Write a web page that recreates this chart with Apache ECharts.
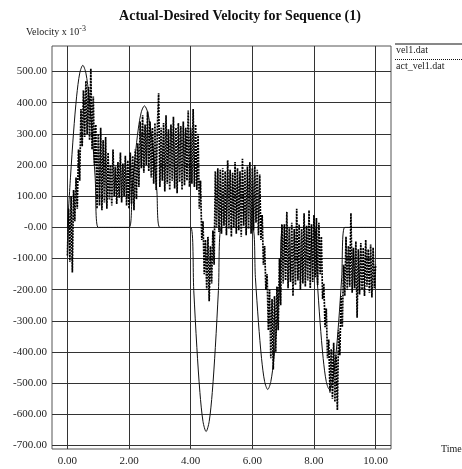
<!DOCTYPE html>
<html>
<head>
<meta charset="utf-8">
<script src="https://cdn.jsdelivr.net/npm/echarts@6/dist/echarts.min.js"></script>
<style>
  html, body { margin: 0; padding: 0; background: #fff; }
  #chart { width: 462px; height: 469px; }
</style>
</head>
<body>
<div id="chart"></div>
<script>
// Axis ticks and their printed labels
const xTicks = [0, 2, 4, 6, 8, 10];
const xTickLabels = ['0.00', '2.00', '4.00', '6.00', '8.00', '10.00'];
const yTicks = [-700, -600, -500, -400, -300, -200, -100, 0, 100, 200, 300, 400, 500];
const yTickLabels = ['-700.00', '-600.00', '-500.00', '-400.00', '-300.00', '-200.00', '-100.00',
                     '-0.00', '100.00', '200.00', '300.00', '400.00', '500.00'];

// vel1.dat : desired velocity profile (time, velocity x 1e-3)
const velTime = [
  0, 0.1, 0.2, 0.3, 0.4, 0.5, 0.6, 0.7, 0.8, 0.9, 1.0,
  2.0, 2.1, 2.2, 2.3, 2.4, 2.5, 2.6, 2.7, 2.8, 2.9, 3.0,
  4.0, 4.1, 4.2, 4.3, 4.4, 4.5, 4.6, 4.7, 4.8, 4.9, 5.0,
  6.0, 6.1, 6.2, 6.3, 6.4, 6.5, 6.6, 6.7, 6.8, 6.9, 7.0,
  8.0, 8.1, 8.2, 8.3, 8.4, 8.5, 8.6, 8.7, 8.8, 8.9, 9.0,
  10.0
];
const velValue = [
  0, 161, 306, 421, 495, 520, 495, 421, 306, 161, 0,
  0, 121, 229, 316, 371, 390, 371, 316, 229, 121, 0,
  0, -202, -385, -530, -623, -655, -623, -530, -385, -202, 0,
  0, -161, -306, -421, -495, -520, -495, -421, -306, -161, 0,
  0, -161, -306, -421, -495, -520, -495, -421, -306, -161, 0,
  0
];

// act_vel1.dat : measured velocity, sampled every actStep seconds from actStart
const actStart = 0;
const actStep = 0.04;
const actValue = [
  // 0.00 - 0.96
  -90, 60, -110, 100, -145, 120, 20, 160, 60, 250, 150, 380, 260, 440, 290, 470, 300, 450, 280, 510, 250, 420, 200, 330, 60,
  // 1.00 - 1.96
  300, 70, 320, 55, 280, 80, 290, 60, 240, 90, 200, 70, 250, 100, 195, 75, 210, 95, 240, 80, 205, 100, 230, 70, 215,
  // 2.00 - 2.96
  60, 240, 75, 230, 55, 250, 90, 270, 130, 340, 190, 360, 175, 330, 200, 372, 180, 340, 160, 320, 140, 335, 120, 325, 430,
  // 3.00 - 3.96
  130, 320, 150, 335, 115, 360, 140, 315, 120, 330, 150, 355, 125, 320, 110, 335, 145, 325, 120, 340, 135, 320, 150, 375, 130,
  // 4.00 - 4.96
  320, 140, 380, 130, 330, 120, 300, 60, 150, -40, 20, -150, -40, -200, -30, -237, -60, -180, -10, -120, 180, 0, 190, -15, 185,
  // 5.00 - 5.96
  -20, 190, 5, 180, -25, 215, -5, 185, -30, 175, 0, 210, -20, 190, -10, 180, -30, 220, 5, 185, -25, 195, -5, 210, -20,
  // 6.00 - 6.96
  190, -10, 200, 15, 185, -25, 170, -40, 40, -120, -60, -200, -150, -330, -200, -420, -230, -456, -220, -400, -190, -330, -100, -250, 10,
  // 7.00 - 7.96
  -180, 10, -170, 50, -195, 0, -175, 15, -220, -5, -185, 60, -170, 10, -200, -5, -180, 45, -190, 5, -170, 55, -195, 10, -175,
  // 8.00 - 8.96
  40, -160, 30, -185, 15, -150, -30, -230, -180, -320, -260, -420, -360, -530, -390, -550, -370, -560, -410, -586, -330, -410, -220, -320, -120,
  // 9.00 - 10.00
  -220, -30, -200, -60, -190, 46, -210, -65, -195, -45, -290, -70, -215, -50, -200, -65, -220, -40, -190, -70, -210, -55, -225, -65, -195, -120
];

const SERIF = '"Liberation Serif", "DejaVu Serif", serif';
const chart = echarts.init(document.getElementById('chart'), null, { renderer: 'canvas' });

chart.setOption({
  animation: false,
  backgroundColor: '#fff',
  title: {
    text: 'Actual-Desired Velocity for Sequence (1)',
    left: 235, top: 4, textAlign: 'center',
    textStyle: { fontFamily: SERIF, fontWeight: 'bold', fontSize: 14, color: '#111' }
  },
  grid: {
    left: 52, right: 71, top: 46, bottom: 20,
    show: true, borderColor: '#555', borderWidth: 1, backgroundColor: 'transparent'
  },
  xAxis: {
    type: 'value', min: -0.5, max: 10.5,
    axisLine: { show: false },
    axisTick: { show: false, customValues: xTicks },
    axisLabel: {
      customValues: xTicks,
      formatter: v => xTickLabels[xTicks.indexOf(v)],
      fontFamily: SERIF, fontSize: 11, color: '#222', margin: 7
    },
    splitLine: { show: true, lineStyle: { color: '#333', width: 1 } }
  },
  yAxis: {
    type: 'value', min: -711, max: 582,
    axisLine: { show: false },
    axisTick: { show: false, customValues: yTicks },
    axisLabel: {
      customValues: yTicks,
      formatter: v => yTickLabels[yTicks.indexOf(v)],
      fontFamily: SERIF, fontSize: 11, color: '#222', margin: 5
    },
    splitLine: { show: true, lineStyle: { color: '#333', width: 1 } }
  },
  graphic: [
    { type: 'text', left: 26, top: 25,
      style: { text: 'Velocity x 10{s|-3}', fontFamily: SERIF, fontSize: 10, fill: '#222',
               rich: { s: { fontFamily: SERIF, fontSize: 8, fill: '#222', verticalAlign: 'top', padding: [0, 0, 6, 0] } } } },
    { type: 'text', left: 441, top: 444,
      style: { text: 'Time', fontFamily: SERIF, fontSize: 10, fill: '#222' } },
    { type: 'line', shape: { x1: 395, y1: 44, x2: 462, y2: 44 },
      style: { stroke: '#111', lineWidth: 1 } },
    { type: 'text', left: 396, top: 45,
      style: { text: 'vel1.dat', fontFamily: SERIF, fontSize: 10, fill: '#222' } },
    { type: 'line', shape: { x1: 395, y1: 59.5, x2: 462, y2: 59.5 },
      style: { stroke: '#111', lineWidth: 1, lineDash: [1, 1] } },
    { type: 'text', left: 396, top: 61,
      style: { text: 'act_vel1.dat', fontFamily: SERIF, fontSize: 10, fill: '#222' } }
  ],
  series: [
    {
      name: 'vel1.dat', type: 'line', showSymbol: false, smooth: 0.3,
      data: velTime.map((t, i) => [t, velValue[i]]),
      lineStyle: { color: '#111', width: 1 },
      z: 2
    },
    {
      name: 'act_vel1.dat', type: 'line', showSymbol: false,
      data: actValue.map((v, i) => [actStart + i * actStep, v]),
      lineStyle: { color: '#000', width: 1.7, type: [2, 1] },
      z: 3
    }
  ]
});
</script>
</body>
</html>
